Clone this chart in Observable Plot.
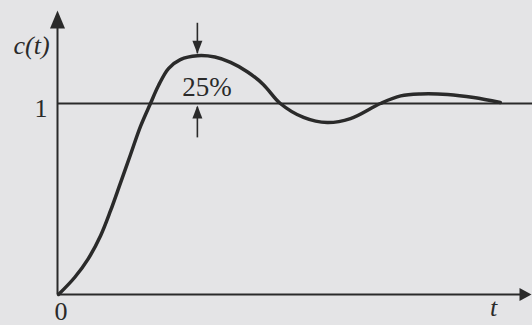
<!DOCTYPE html>
<html>
<head>
<meta charset="utf-8">
<script src="https://cdn.jsdelivr.net/npm/d3@7"></script>
<script src="https://cdn.jsdelivr.net/npm/@observablehq/plot@0.6"></script>
<style>
  html, body { margin: 0; padding: 0; background: #e4e4e6; }
  #chart { width: 532px; height: 325px; overflow: hidden; }
  #chart svg text { font-family: "Liberation Serif", serif; }
</style>
</head>
<body>
<div id="chart"></div>
<script>
// Step response of an underdamped system, c(t) against t
const tValues = [0, 0.34, 0.63, 0.89, 1.10, 1.31, 1.52, 1.73, 1.94, 2.11, 2.32, 2.57, 2.93, 3.30, 3.63, 3.99, 4.32, 4.68, 5.17, 5.67, 6.16, 6.79, 7.22, 7.64, 8.21, 8.76, 9.32];
const cValues = [0, 0.089, 0.188, 0.309, 0.440, 0.586, 0.733, 0.880, 1.0, 1.094, 1.183, 1.23, 1.25, 1.243, 1.215, 1.165, 1.10, 1.0, 0.927, 0.90, 0.921, 1.0, 1.04, 1.05, 1.047, 1.031, 1.005];

// final value and peak overshoot
const finalValue = 1;
const overshootPct = 25;
const peakTime = 2.93;
const peakValue = finalValue * (1 + overshootPct / 100);

const yTicks = [1];
const xTicks = [0];

const response = tValues.map((t, i) => ({t, c: cValues[i]}));

const ink = "#2a2a2a";
const serif = "Liberation Serif";

// filled arrowhead with its tip at the origin, pointing up
function arrowHead(w, h) {
  return {
    draw(ctx) {
      ctx.moveTo(0, 0);
      ctx.lineTo(w / 2, h);
      ctx.lineTo(-w / 2, h);
      ctx.closePath();
    }
  };
}

const chart = Plot.plot({
  width: 532,
  height: 325,
  marginLeft: 58,
  marginRight: 0,
  marginTop: 7.5,
  marginBottom: 31,
  x: {domain: [0, 10], axis: null},
  y: {domain: [0, 1.5], axis: null},
  style: {
    background: "#e4e4e6",
    color: ink,
    fontFamily: serif,
    fontSize: "26px"
  },
  marks: [
    // final-value reference line
    Plot.ruleY([finalValue], {x1: 0, x2: 10, stroke: ink, strokeWidth: 2}),
    // axes
    Plot.ruleX([0], {y1: 0, y2: 1.43, stroke: ink, strokeWidth: 2, dx: -1}),
    Plot.ruleY([0], {x1: 0, x2: 9.8, stroke: ink, strokeWidth: 2}),
    Plot.dot([{x: 0, y: 1.487}], {x: "x", y: "y", dx: -1, symbol: arrowHead(15, 18), fill: ink, stroke: "none"}),
    Plot.dot([{x: 10, y: 0}], {x: "x", y: "y", dx: -1, symbol: arrowHead(13, 12), rotate: 90, fill: ink, stroke: "none"}),
    Plot.axisY({ticks: yTicks, tickFormat: d => String(d), tickSize: 0, tickPadding: 11, dy: 5.5, fontSize: 26, fontFamily: serif, label: null}),
    Plot.axisX({ticks: xTicks, tickFormat: d => String(d), tickSize: 0, tickPadding: 7.5, dx: 2.5, fontSize: 26, fontFamily: serif, label: null}),
    // response curve
    Plot.line(response, {x: "t", y: "c", curve: "catmull-rom", stroke: ink, strokeWidth: 3.5}),
    // overshoot markers
    Plot.ruleX([peakTime], {y1: peakValue + 0.01, y2: peakValue + 0.17, stroke: ink, strokeWidth: 1.6}),
    Plot.dot([{x: peakTime, y: peakValue}], {x: "x", y: "y", dy: -2, symbol: arrowHead(10, 13), rotate: 180, fill: ink, stroke: "none"}),
    Plot.ruleX([peakTime], {y1: finalValue - 0.18, y2: finalValue - 0.02, stroke: ink, strokeWidth: 1.6}),
    Plot.dot([{x: peakTime, y: finalValue}], {x: "x", y: "y", dy: 2, symbol: arrowHead(10, 13), fill: ink, stroke: "none"}),
    Plot.text([`${overshootPct}%`], {x: peakTime, y: finalValue, dx: 9.5, dy: -8, lineAnchor: "bottom", textAnchor: "middle", fontSize: 27, fontFamily: serif, fill: ink}),
    // axis names
    Plot.text(["c(t)"], {frameAnchor: "top-left", dx: -27, dy: 45.5, lineAnchor: "bottom", textAnchor: "middle", fontStyle: "italic", fontSize: 26, fontFamily: serif, fill: ink}),
    Plot.text(["t"], {frameAnchor: "bottom-right", dx: -39, dy: 21, lineAnchor: "bottom", textAnchor: "middle", fontStyle: "italic", fontSize: 26, fontFamily: serif, fill: ink})
  ]
});

document.getElementById("chart").append(chart);
</script>
</body>
</html>
